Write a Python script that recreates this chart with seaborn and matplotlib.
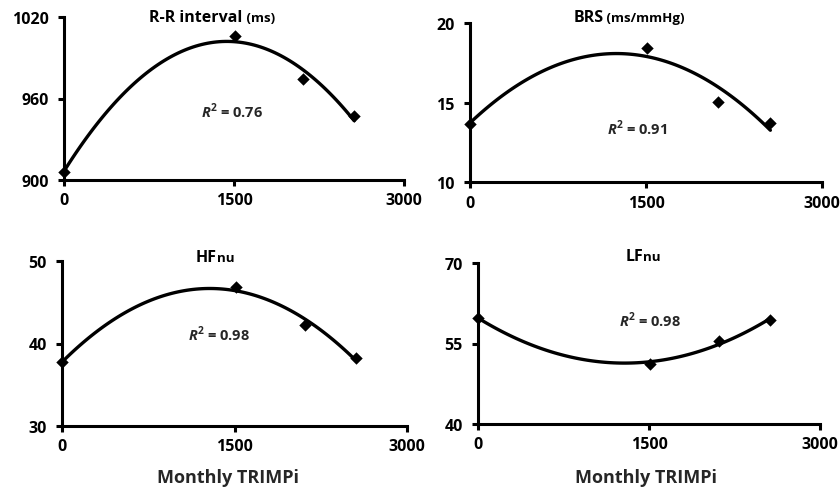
import numpy as np
import pandas as pd
import matplotlib
matplotlib.use("Agg")
import matplotlib.pyplot as plt
import seaborn as sns
from matplotlib.offsetbox import TextArea, HPacker, AnchoredOffsetbox

# ---- data ----
trimpi = [0, 1512, 2110, 2560]
rr_interval = [906, 1006, 974, 947]
brs = [13.65, 18.45, 15.05, 13.7]
hfnu = [37.7, 46.8, 42.3, 38.2]
lfnu = [59.8, 51.2, 55.5, 59.3]

titles_main = ["R-R interval", "BRS", "HF", "LF"]
titles_sub = [" (ms)", " (ms/mmHg)", "nu", "nu"]
r2_labels = ["0.76", "0.91", "0.98", "0.98"]
y_ticks = [[900, 960, 1020], [10, 15, 20], [30, 40, 50], [40, 55, 70]]
x_ticks = [0, 1500, 3000]
xlabel = "Monthly TRIMPi"

sns.set_style("ticks")
plt.rcParams['font.family'] = ['Open Sans', 'DejaVu Sans']
plt.rcParams['font.weight'] = 'bold'
plt.rcParams['mathtext.fontset'] = 'custom'
plt.rcParams['mathtext.bfit'] = 'Open Sans:italic:bold'
plt.rcParams['mathtext.bf'] = 'Open Sans:bold'

W, H = 840, 489
fig = plt.figure(figsize=(W / 100, H / 100), dpi=100)

# axes boxes in pixels: left, right, top(y of max), bottom(y of axis)
boxes = [(64, 404, 18, 181), (470, 822, 24, 183),
         (62, 407, 262, 427), (478, 820, 264, 425)]
series = [rr_interval, brs, hfnu, lfnu]
title_pos = [(212, 18), (629, 18), (215, 258), (643, 257)]
r2_pos = [(232, 111), (637, 128), (219, 334), (650, 320)]

for i, (box, yv) in enumerate(zip(boxes, series)):
    l, r, t, b = box
    ax = fig.add_axes([l / W, 1 - b / H, (r - l) / W, (b - t) / H])
    df = pd.DataFrame({"x": trimpi, "y": yv})
    sns.regplot(data=df, x="x", y="y", order=2, ci=None, ax=ax,
                marker="D", color="black",
                scatter_kws={"s": 40, "clip_on": False, "zorder": 4,
                             "linewidths": 0, "alpha": 1},
                line_kws={"lw": 2.4, "color": "black", "solid_capstyle": "round"})
    ax.set_xlim(0, 3000)
    ax.set_ylim(y_ticks[i][0], y_ticks[i][-1])
    ax.set_xticks(x_ticks)
    ax.set_yticks(y_ticks[i])
    ax.set_xlabel("")
    ax.set_ylabel("")
    for s in ["top", "right"]:
        ax.spines[s].set_visible(False)
    for s in ["left", "bottom"]:
        ax.spines[s].set_linewidth(2.2)
        ax.spines[s].set_color("black")
    ax.tick_params(axis="both", direction="out", length=4, width=2.2,
                   colors="black", labelsize=11.5)
    ax.tick_params(axis="y", pad=7)
    ax.tick_params(axis="x", pad=5)
    for lab in ax.get_xticklabels() + ax.get_yticklabels():
        lab.set_fontweight("bold")
    ax.patch.set_alpha(0)

    tx, ty = title_pos[i]
    sub_size = 9.5 if i < 2 else 9.5
    ta1 = TextArea(titles_main[i], textprops=dict(fontsize=11.5, fontweight="bold", color="black"))
    ta2 = TextArea(titles_sub[i], textprops=dict(fontsize=sub_size, fontweight="bold", color="black"))
    pack = HPacker(children=[ta1, ta2], align="baseline", pad=0, sep=0)
    ab = AnchoredOffsetbox(loc="center", child=pack, frameon=False,
                           bbox_to_anchor=(tx / W, 1 - ty / H),
                           bbox_transform=fig.transFigure, borderpad=0, pad=0)
    fig.add_artist(ab)

    rx, ry = r2_pos[i]
    fig.text(rx / W, 1 - ry / H, r"$\mathbfit{R}^{\mathbf{2}}$" + " = " + r2_labels[i],
             ha="center", va="center", fontsize=10.5, fontweight="bold")

fig.text(228 / W, 1 - 478 / H, xlabel, ha="center", va="center",
         fontsize=13, fontweight="bold")
fig.text(646 / W, 1 - 478 / H, xlabel, ha="center", va="center",
         fontsize=13, fontweight="bold")

fig.savefig("out.png", dpi=100)
